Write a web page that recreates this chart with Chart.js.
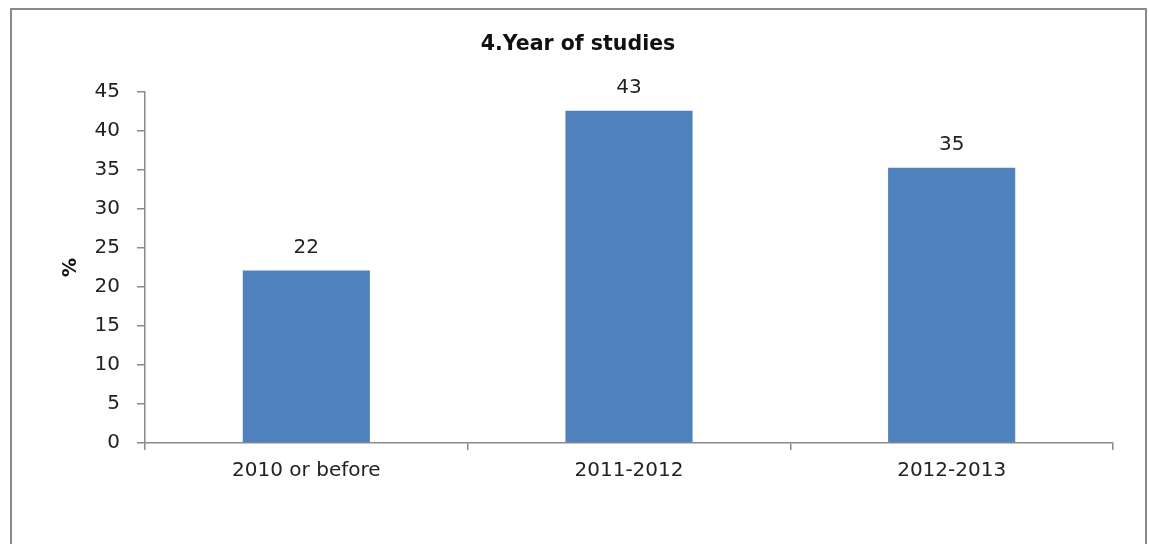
<!DOCTYPE html>
<html>
<head>
<meta charset="utf-8">
<script src="https://cdn.jsdelivr.net/npm/chart.js@4"></script>
<style>
  html, body { margin: 0; padding: 0; background: #fff; }
  #wrap { position: relative; width: 1149px; height: 544px; overflow: hidden; }
  #frame { position: absolute; left: 10px; top: 8px; width: 1137px; height: 600px; border: 2px solid #8a8a8a; box-sizing: border-box; }
  #c { position: absolute; left: 0; top: 0; }
</style>
</head>
<body>
<div id="wrap">
  <div id="frame"></div>
  <canvas id="c" width="1149" height="544"></canvas>
</div>
<script>
const categories = ['2010 or before', '2011-2012', '2012-2013'];
const percentValues = [22.1, 42.6, 35.3];
const dataLabels = ['22', '43', '35'];
const yTicks = [0, 5, 10, 15, 20, 25, 30, 35, 40, 45];
const chartTitle = '4.Year of studies';
const yAxisTitle = '%';

const FONT = "'DejaVu Sans', sans-serif";

const barLabelPlugin = {
  id: 'barLabels',
  afterDatasetsDraw(chart) {
    const ctx = chart.ctx;
    const meta = chart.getDatasetMeta(0);
    ctx.save();
    ctx.font = '20px ' + FONT;
    ctx.fillStyle = '#222';
    ctx.textAlign = 'center';
    ctx.textBaseline = 'bottom';
    meta.data.forEach((bar, i) => {
      ctx.fillText(dataLabels[i], bar.x, bar.y - 13);
    });
    ctx.restore();
  }
};

// Title centred on the outer frame (as in the reference), drawn as real text
const frameTitlePlugin = {
  id: 'frameTitle',
  afterDraw(chart) {
    const ctx = chart.ctx;
    ctx.save();
    ctx.font = 'bold 20.5px ' + FONT;
    ctx.fillStyle = '#111';
    ctx.textAlign = 'center';
    ctx.textBaseline = 'middle';
    ctx.fillText(chartTitle, 578, 45);
    ctx.restore();
  }
};

new Chart(document.getElementById('c'), {
  type: 'bar',
  data: {
    labels: categories,
    datasets: [{
      data: percentValues,
      backgroundColor: '#4F81BD',
      borderWidth: 0,
      barPercentage: 0.394,
      categoryPercentage: 1.0
    }]
  },
  options: {
    responsive: false,
    animation: false,
    devicePixelRatio: 1,
    layout: { padding: { top: 92, right: 36, bottom: 0, left: 0 } },
    plugins: {
      legend: { display: false },
      tooltip: { enabled: false },
      title: { display: false }
    },
    scales: {
      x: {
        grid: {
          display: true,
          drawOnChartArea: false,
          offset: true,
          tickLength: 7,
          color: '#8a8a8a',
          lineWidth: 1.5
        },
        border: { display: true, color: '#8a8a8a', width: 1.5 },
        ticks: {
          color: '#222',
          font: { family: FONT, size: 20 },
          padding: 9,
          maxRotation: 0
        },
        afterFit(scale) { scale.height = 101; }
      },
      y: {
        min: 0,
        max: 45,
        afterBuildTicks(scale) { scale.ticks = yTicks.map(v => ({ value: v })); },
        grid: {
          display: true,
          drawOnChartArea: false,
          tickLength: 8,
          color: '#8a8a8a',
          lineWidth: 1.5
        },
        border: { display: true, color: '#8a8a8a', width: 1.5 },
        ticks: {
          color: '#222',
          font: { family: FONT, size: 20 },
          padding: 17
        },
        title: {
          display: true,
          text: yAxisTitle,
          color: '#111',
          font: { family: FONT, size: 19, weight: 'bold', lineHeight: 1.2 },
          padding: { top: 60, bottom: 0 }
        },
        afterFit(scale) { scale.width = 145; }
      }
    }
  },
  plugins: [barLabelPlugin, frameTitlePlugin]
});
</script>
</body>
</html>
